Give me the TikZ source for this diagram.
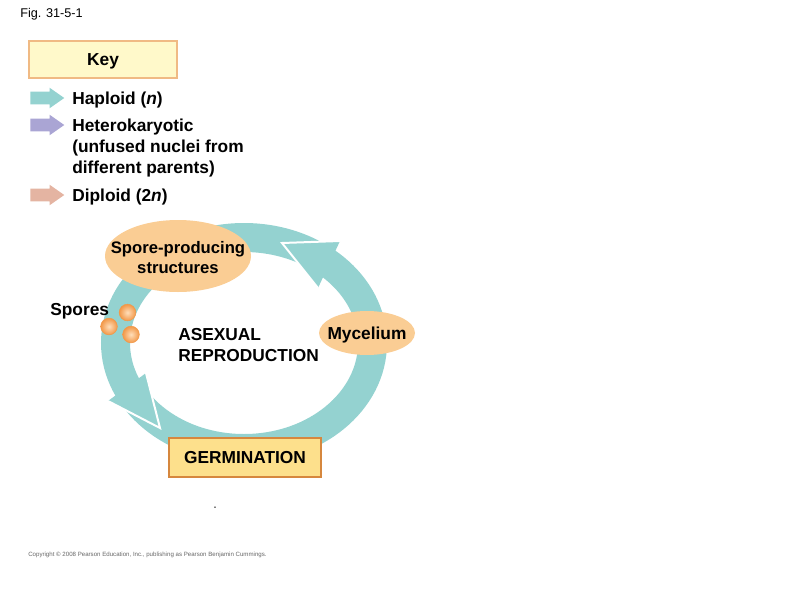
\documentclass[tikz,border=0pt]{standalone}
\usepackage{fontspec}
\setmainfont{Liberation Sans}
\usetikzlibrary{shapes.geometric,shapes.arrows}
\definecolor{ring_teal}{RGB}{148,210,208}
\definecolor{het_purple}{RGB}{170,165,212}
\definecolor{dip_salmon}{RGB}{228,180,162}
\definecolor{spore_orange}{RGB}{250,205,148}
\definecolor{ball_orange}{RGB}{242,152,72}
\definecolor{ball_light}{RGB}{255,222,186}
\definecolor{germ_fill}{RGB}{253,224,140}
\definecolor{germ_edge}{RGB}{214,135,62}
\definecolor{key_fill}{RGB}{255,249,202}
\definecolor{key_edge}{RGB}{240,186,132}
\tikzstyle{lbl}=[inner sep=0pt,align=left,font=\fontsize{13}{15.75}\selectfont\bfseries]
\tikzstyle{blob}=[ellipse,fill=spore_orange,inner sep=0pt]
\tikzstyle{keyarrow}=[single arrow,anchor=tail,inner xsep=0pt,inner ysep=4.5pt,
  minimum height=25.5pt,single arrow head extend=3pt,single arrow tip angle=70]
\tikzstyle{spore}=[circle,inner color=ball_light,outer color=ball_orange,draw=ball_orange,
  line width=0.4pt,minimum size=12.5pt,inner sep=0pt]
\tikzstyle{tipedge}=[white,line width=1.5pt]

\begin{document}
\begin{tikzpicture}[x=0.75pt,y=-0.75pt]
    \useasboundingbox (0,0) rectangle (800,600);
    \node [anchor=west,inner sep=0pt,font=\fontsize{9.5}{11}\selectfont] (fig) at (20,14) {Fig. 31-5-1};
    % key
    \node [rectangle,fill=key_fill,draw=key_edge,line width=1.5pt,minimum width=111pt,
      minimum height=27.75pt] (key) at (103,59.5) {};
    \node [lbl] (keytxt) at (103,61) {Key};
    \node [keyarrow,fill=ring_teal] (hapa) at (30,98) {};
    \node [keyarrow,fill=het_purple] (heta) at (30,125) {};
    \node [keyarrow,fill=dip_salmon] (dipa) at (30,195) {};
    \node [lbl,anchor=west] (hap) at (72,100) {Haploid (\textit{n})};
    \node [lbl,anchor=north west] (het) at (72,119) {Heterokaryotic\\(unfused nuclei from\\different parents)};
    \node [lbl,anchor=west] (dip) at (72,197) {Diploid (2\textit{n})};
    % cycle
    \draw [line width=21.75pt,ring_teal] (244,343) ellipse [x radius=128.5,y radius=105.5];
    \coordinate (tipa) at (282,243);
    \coordinate (barba1) at (340,241);
    \coordinate (barba2) at (318,288);
    \coordinate (tipb) at (160,428);
    \coordinate (barbb1) at (108,401);
    \coordinate (barbb2) at (146,373);
    \fill [ring_teal] (tipa) -- (barba1) -- (barba2) -- cycle;
    \draw [tipedge] (barba1) -- (tipa) -- (barba2);
    \fill [ring_teal] (tipb) -- (barbb1) -- (barbb2) -- cycle;
    \draw [tipedge] (barbb1) -- (tipb) -- (barbb2);
    \node [blob,minimum width=109.5pt,minimum height=54pt] (sporeblob) at (178,256) {};
    \node [lbl,align=center,font=\fontsize{12.5}{15}\selectfont\bfseries] (sporetxt) at (178,258) {Spore-producing\\structures};
    \node [blob,minimum width=72pt,minimum height=33pt] (mycblob) at (367,333) {};
    \node [lbl] (myc) at (367,335) {Mycelium};
    \node [rectangle,fill=germ_fill,draw=germ_edge,line width=1.5pt,minimum width=114pt,
      minimum height=29.25pt,font=\fontsize{13}{15}\selectfont\bfseries] (germ) at (245,457.5) {GERMINATION};
    \node [lbl,anchor=west] (asex) at (178,345.5) {ASEXUAL\\REPRODUCTION};
    \node [lbl,anchor=west] (spores) at (50,311) {Spores};
    \node [spore] (s1) at (127.5,312.5) {};
    \node [spore] (s2) at (109,326.5) {};
    \node [spore] (s3) at (131,334.5) {};
    \node [circle,fill=black,inner sep=0.4pt] (dot) at (215,507) {};
    \node [anchor=west,inner sep=0pt,text=black!60,font=\fontsize{4.6}{5}\selectfont] (copy) at (28,555)
      {Copyright \textcopyright{} 2008 Pearson Education, Inc., publishing as Pearson Benjamin Cummings.};
\end{tikzpicture}
\end{document}
